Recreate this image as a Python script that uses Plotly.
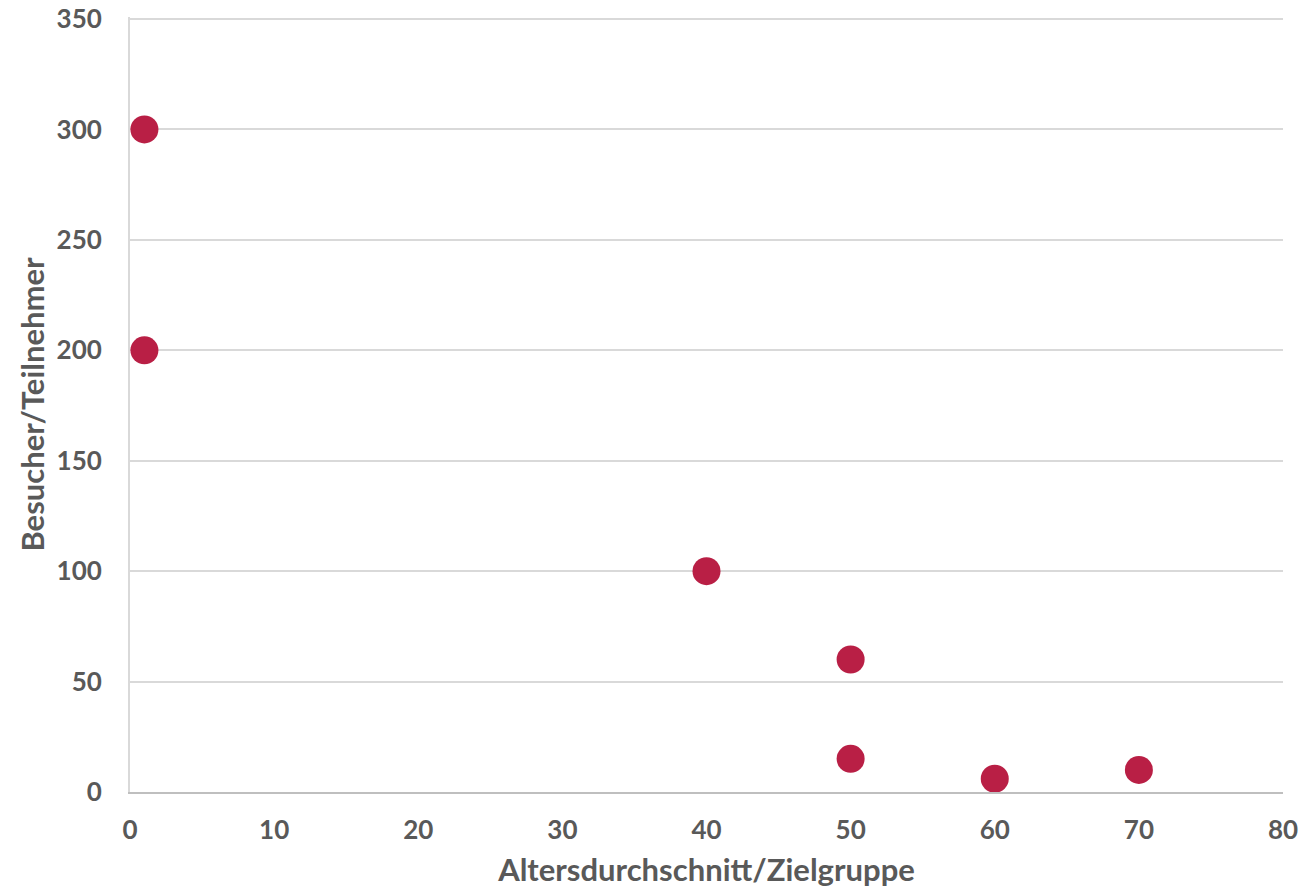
import plotly.graph_objects as go

age = [1, 1, 40, 50, 50, 60, 70]
visitors = [300, 200, 100, 60, 15, 6, 10]

x_ticks = [0, 10, 20, 30, 40, 50, 60, 70, 80]
y_ticks = [0, 50, 100, 150, 200, 250, 300, 350]

font_grey = "#595959"
fam = "Lato, 'Open Sans', sans-serif"

fig = go.Figure()
fig.add_trace(go.Scatter(
    x=age, y=visitors, mode="markers",
    marker=dict(size=28, color="#B91F45", line=dict(width=0)),
    showlegend=False, cliponaxis=False,
))

# page body has an 8px margin, so the figure is sized to fit the window
fig.update_layout(
    width=1299, height=882,
    margin=dict(l=122, r=24, t=9, b=98),
    plot_bgcolor="white", paper_bgcolor="white",
    font=dict(family=fam, color=font_grey, size=26, weight="bold"),
)
fig.update_xaxes(
    range=[0, 80], tickvals=x_ticks, ticktext=[str(v) for v in x_ticks],
    showgrid=False, zeroline=False, automargin=False,
    showline=True, linecolor="#BFBFBF", linewidth=2,
    ticks="", ticklabelstandoff=14, ticklabeloverflow="allow",
    tickfont=dict(family=fam, size=26, color=font_grey, weight="bold"),
    title=dict(text="Altersdurchschnitt/Zielgruppe", standoff=15,
               font=dict(family=fam, size=31, color=font_grey, weight="bold")),
)
fig.update_yaxes(
    range=[0, 350.9], tickvals=y_ticks, ticktext=[str(v) for v in y_ticks],
    showgrid=True, gridcolor="#D9D9D9", gridwidth=1.5, zeroline=False,
    automargin=False,
    showline=True, linecolor="#D9D9D9", linewidth=2,
    ticks="", ticklabelstandoff=21, ticklabeloverflow="allow",
    tickfont=dict(family=fam, size=26, color=font_grey, weight="bold"),
    title=dict(text="Besucher/Teilnehmer", standoff=3,
               font=dict(family=fam, size=31, color=font_grey, weight="bold")),
)

fig.write_html("out.html")
